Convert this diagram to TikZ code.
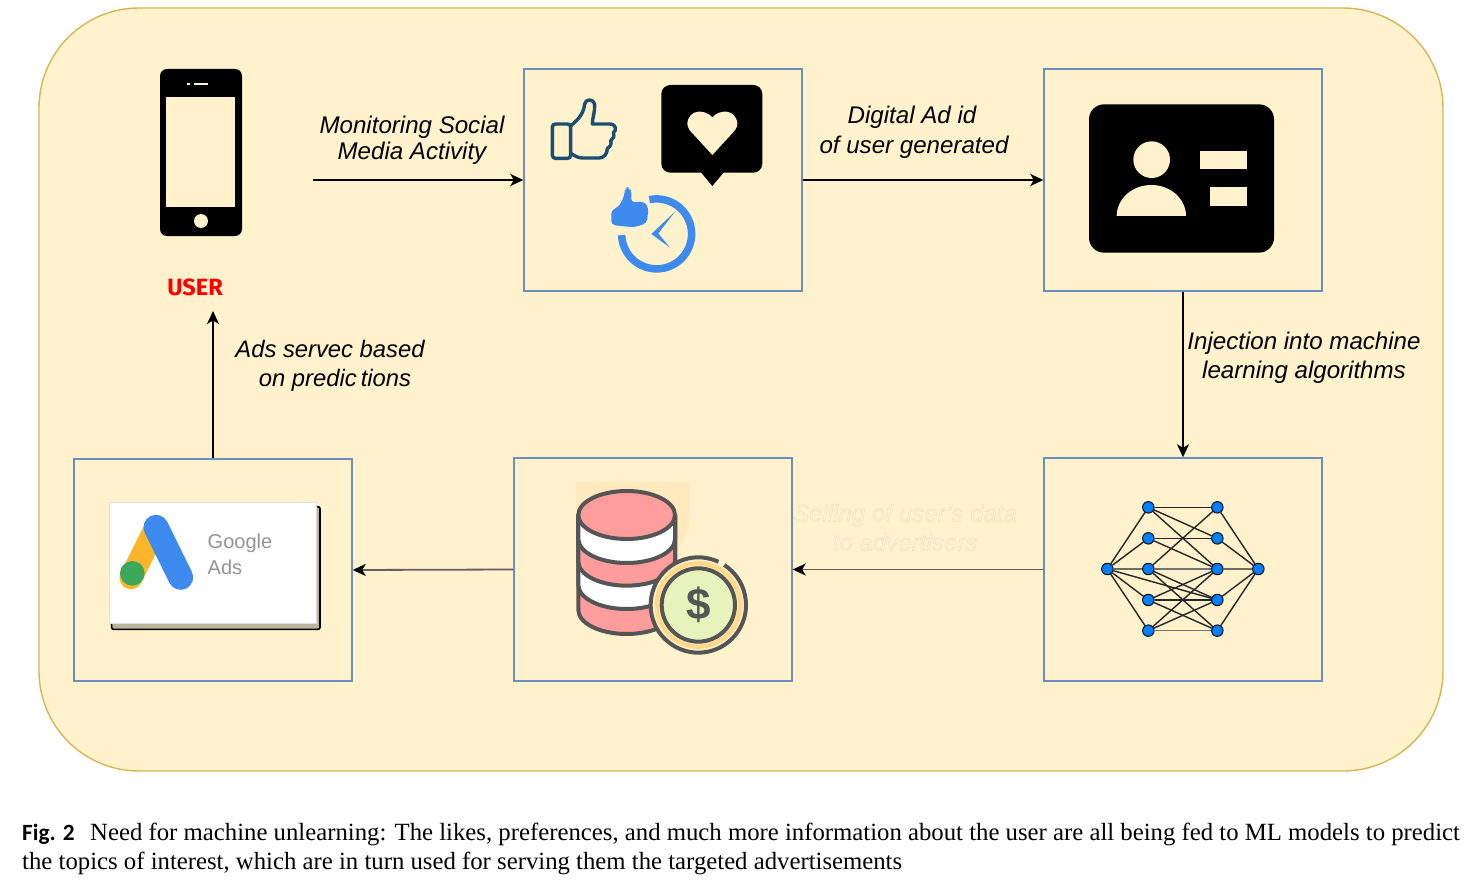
\documentclass[tikz,border=0pt]{standalone}
\usepackage{fontspec}
\setmainfont{Liberation Sans}
\newfontfamily\capfont{Liberation Serif}
\newfontfamily\figfont{Carlito}
\newfontfamily\userfont{Fira Sans}
\usetikzlibrary{arrows.meta,shapes.geometric}
\definecolor{panelfill}{HTML}{FFF2CC}
\definecolor{paneledge}{HTML}{D6B656}
\definecolor{boxedge}{HTML}{6C8EBF}
\definecolor{thumbdark}{HTML}{1B4F72}
\definecolor{iconblue}{HTML}{3D8BEF}
\definecolor{nnblue}{HTML}{007FFF}
\definecolor{dbgrey}{HTML}{555555}
\definecolor{dbred}{HTML}{FF9C9C}
\definecolor{patch}{HTML}{FFE9BD}
\definecolor{coinring}{HTML}{FFD98A}
\definecolor{coinface}{HTML}{E7F2BC}
\definecolor{ghost}{HTML}{E6DCC0}
\definecolor{adyellow}{HTML}{FBB52A}
\definecolor{adgreen}{HTML}{3DA85B}
\definecolor{adshadow}{HTML}{BDB29A}
\newcommand{\ghosttext}[1]{\special{pdf:code 1 Tr 0.35 w}#1\special{pdf:code 0 Tr}}
\tikzset{
  panel/.style={draw=boxedge,line width=1.4pt,minimum width=278pt,inner sep=0pt},
  flow/.style={line width=1.8pt,-{Stealth[length=13pt,width=12pt,inset=3.5pt,black]}},
  lbl/.style={align=center,inner sep=0pt,font=\fontsize{24.1}{28}\selectfont\itshape},
  nn/.style={circle,draw=black,fill=nnblue,line width=.9pt,minimum size=11.5pt,inner sep=0pt},
  nnedge/.style={line width=1.4pt,black!85},
  dbline/.style={draw=dbgrey,line width=4pt,line join=round}
}
\begin{document}
\begin{tikzpicture}[x=1pt,y=1pt,yscale=-1]
\useasboundingbox (0,0) rectangle (1478,883);
\fill[white] (0,0) rectangle (1478,883);
\draw[fill=panelfill,draw=paneledge,line width=1.4pt,rounded corners=100pt] (39,8) rectangle (1443,771);

% boxes
\node[panel,minimum height=222pt] (likes) at (663,180) {};
\node[panel,minimum height=222pt] (idbox) at (1183,180) {};
\node[panel,minimum height=223pt] (nnbox) at (1183,569.5) {};
\node[panel,minimum height=223pt] (dbbox) at (653,569.5) {};
\node[panel,minimum height=222pt] (adbox) at (213,570) {};

% phone
\draw[fill=black,rounded corners=7pt,draw=none] (160,69) rectangle (242,236);
\fill[panelfill] (166,97) rectangle (235,207);
\fill[panelfill] (201,221) circle (7);
\fill[panelfill] (187,83) rectangle (190,85.5);
\fill[panelfill] (194,83) rectangle (208,85.5);
\coordinate (phoneout) at (313,180);
\coordinate (userin) at (213,311);
\node[text=red,inner sep=0pt,font=\userfont\bfseries\fontsize{23.5}{26}\selectfont] (user) at (195,287) {USER};

% likes icons
\begin{scope}[shift={(524,60)},scale=.33333]
  \draw[thumbdark,line width=3.4pt,rounded corners=3pt] (85,192) rectangle (140,295);
  \draw[thumbdark,line width=3.4pt,line join=round]
    (140,198) .. controls (160,180) and (178,165) .. (182,132)
    .. controls (184,116) and (210,114) .. (212,136)
    .. controls (213,155) and (205,175) .. (205,192)
    -- (258,192) .. controls (278,193) and (278,212) .. (268,218)
    .. controls (272,228) and (268,238) .. (260,242)
    .. controls (264,252) and (258,262) .. (250,265)
    .. controls (250,282) and (240,294) .. (225,294)
    -- (175,294) .. controls (160,294) and (150,285) .. (140,280);
  \fill[black,rounded corners=9pt] (412,75) rectangle (715,338);
  \fill[black] (525,330) -- (565,378) -- (605,330) -- cycle;
  \fill[panelfill] (565,172) .. controls (545,148) and (495,145) .. (490,190) .. controls (490,205) and (500,215) .. (510,225) -- (565,285) -- (620,225) .. controls (632,212) and (640,205) .. (640,190) .. controls (635,145) and (585,148) .. (565,172) -- cycle;
  \draw[iconblue,line width=7.5pt] (376,419) arc (-102:178:105);
  \fill[iconblue] (455,453) -- (382,522) -- (438,563) -- (403,520) -- cycle;
  \fill[iconblue,rounded corners=4pt] (262,450) -- (285,440) -- (300,410) -- (304,382) -- (316,382) -- (324,400) -- (320,427) -- (362,425) -- (374,445) -- (368,490) -- (330,502) -- (262,495) -- cycle;
\end{scope}

% id card
\begin{scope}[shift={(1070,90)},scale=.33333]
  \fill[black,rounded corners=15pt] (57,43) rectangle (612,488);
  \fill[panelfill] (245,209) circle (55);
  \fill[panelfill] (140,378) arc (180:360:104 and 93) -- cycle;
  \fill[panelfill] (390,184) rectangle (531,238);
  \fill[panelfill] (420,292) rectangle (531,348);
\end{scope}

% neural net
\begin{scope}[shift={(1060,480)},scale=.33333]
  \node[nn] (in) at (142,267) {};
  \node[nn] (out) at (595,267) {};
  \foreach \i/\y in {1/82,2/175,3/267,4/360,5/452}{
    \node[nn] (a\i) at (265,\y) {};
    \node[nn] (b\i) at (472,\y) {};
  }
  \foreach \i in {1,...,5}{
    \draw[nnedge] (in) -- (a\i);
    \draw[nnedge] (b\i) -- (out);
  }
  \foreach \s/\t in {1/1,1/2,1/3,2/2,2/3,3/1,3/4,3/5,4/3,4/4,4/5,5/3,5/4}{
    \draw[nnedge] (a\s) -- (b\t);
  }
  \draw[nnedge,black!55] (a3) -- (b3);
  \draw[nnedge,black!55] (a5) -- (b5);
  \draw[nnedge] (in) -- (b4);
\end{scope}

% database with coin
\begin{scope}[shift={(540,470)},scale=.33333]
  \fill[patch] (108,37) -- (450,37) -- (450,120) .. controls (450,170) and (435,200) .. (420,225) -- (108,225) -- cycle;
  \foreach \c/\f in {420/dbred,345/white,275/dbred,207/white}{
    \draw[dbline,fill=\f] (115,135) -- (115,\c) arc (180:0:145 and 72) -- (405,135) -- cycle;
  }
  \draw[dbline,fill=dbred] (260,135) ellipse (145 and 72);
  \fill[panelfill] (475,405) circle (145);
  \draw[dbgrey,line width=4pt] (475,405) ++(-57:143) arc (-57:295:143);
  \draw[coinring,line width=4.5pt] (475,405) circle (125);
  \draw[dbgrey,line width=4pt,fill=coinface] (475,405) circle (110);
  \node[text=dbgrey,inner sep=0pt,font=\bfseries\fontsize{44}{44}\selectfont] (dollar) at (475,403) {\$};
\end{scope}

% google ads card
\begin{scope}[shift={(80,320)},scale=.33333]
  \draw[black,fill=adshadow,line width=1.6pt,rounded corners=2pt] (95,560) rectangle (720,928);
  \draw[fill=white,draw=black!12,line width=1pt] (87,547) rectangle (710,910);
  \draw[adyellow,line width=23pt,line cap=round] (228,622) -- (153,773);
  \draw[iconblue,line width=25pt,line cap=round] (228,622) -- (302,772);
  \fill[adgreen] (157,760) circle (37);
\end{scope}
\node[anchor=base west,text=black!42,inner sep=0pt,font=\fontsize{20}{24}\selectfont] (goog) at (207.5,548) {Google};
\node[anchor=base west,text=black!42,inner sep=0pt,font=\fontsize{20}{24}\selectfont] (adsw) at (207.5,574) {Ads};

% connectors
\draw[flow] (phoneout) -- (likes.west);
\draw[flow] (likes.east) -- (idbox.west);
\draw[flow] (idbox.south) -- (nnbox.north);
\draw[flow,draw=black!62] (nnbox.west) -- (dbbox.east);
\draw[flow,draw=black!62] (dbbox.west) -- (adbox.east);
\draw[flow] (adbox.north) -- (userin);

% labels
\node[lbl,font=\fontsize{24.1}{26.5}\selectfont\itshape] (l1) at (412,140.5) {Monitoring Social\\Media Activity};
\node[lbl,font=\fontsize{24.1}{30}\selectfont\itshape] (l2) at (914,132) {\hspace*{-4pt}Digital Ad id\\of user generated};
\node[lbl,font=\fontsize{24.1}{29}\selectfont\itshape] (l3) at (1304,357.5) {Injection into machine\\learning algorithms};
\node[lbl,font=\fontsize{23.8}{29}\selectfont\itshape] (l4) at (330,365.5) {Ads servec based\\\hspace*{10pt}on predic\,tions};
\node[lbl,text=ghost,font=\fontsize{24.1}{29}\selectfont\itshape] (l5) at (905,527.5) {\ghosttext{Selling of user's data}\\\ghosttext{to advertisers}};

% caption
\node[anchor=base west,inner sep=0pt,font=\figfont\bfseries\fontsize{23.3}{28}\selectfont] (figno) at (22,840) {Fig. 2};
\node[anchor=base west,inner sep=0pt,font=\capfont\fontsize{24.75}{28}\selectfont] (cap1) at (90,840) {Need for machine unlearning: The likes, preferences, and much more information about the user are all being fed to ML models to predict};
\node[anchor=base west,inner sep=0pt,font=\capfont\fontsize{24.75}{28}\selectfont] (cap2) at (22,869) {the topics of interest, which are in turn used for serving them the targeted advertisements};
\end{tikzpicture}
\end{document}
